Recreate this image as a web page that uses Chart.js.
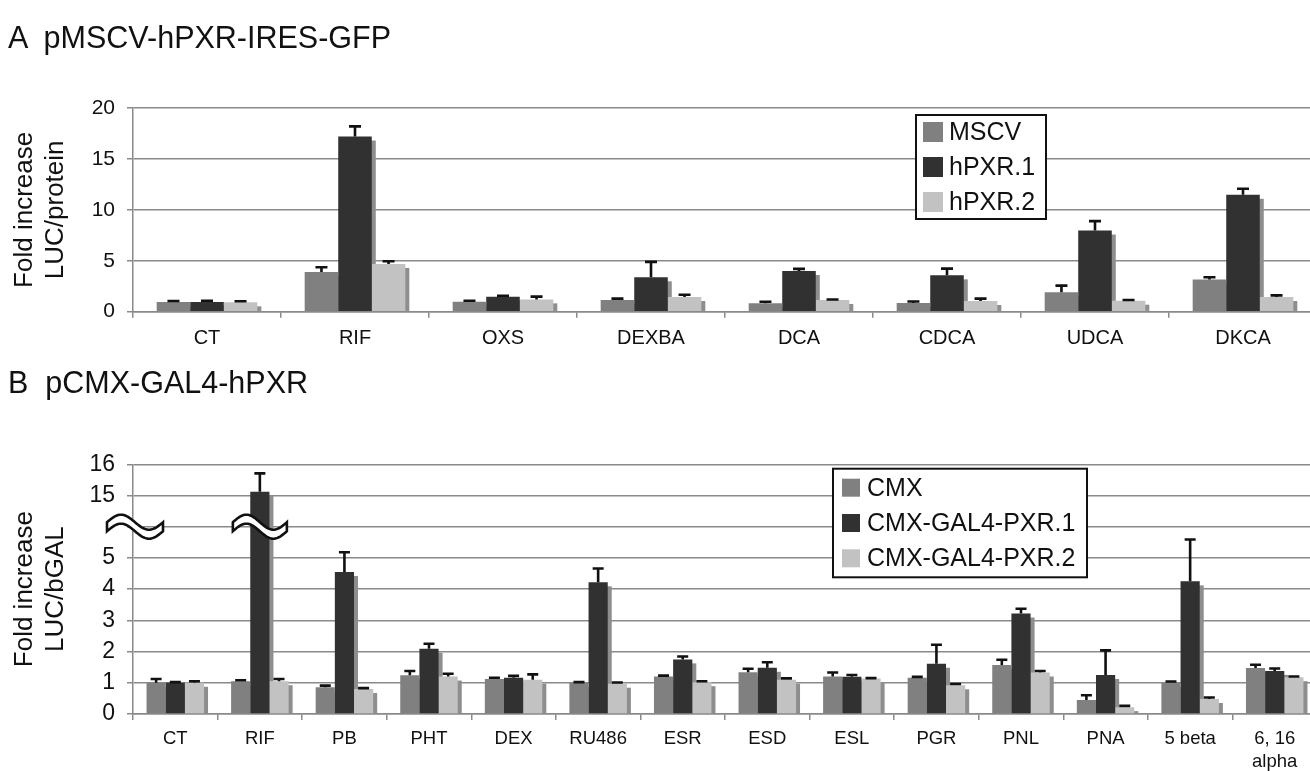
<!DOCTYPE html>
<html><head><meta charset="utf-8">
<script src="https://cdn.jsdelivr.net/npm/chart.js@4/dist/chart.umd.min.js"></script>
<style>
html,body{margin:0;padding:0;background:#fff;overflow:hidden;width:1310px;height:771px;}
#wrap{position:relative;width:1310px;height:771px;overflow:hidden;background:#fff;}
.ttl{position:absolute;left:8px;font-family:"Liberation Sans",Arial,Helvetica,sans-serif;font-size:30.5px;color:#111;white-space:pre;line-height:1;}
#cA{position:absolute;left:0;top:0;}
#cB{position:absolute;left:0;top:360px;}
</style></head><body>
<div id="wrap">
<canvas id="cA" width="1330" height="365"></canvas>
<canvas id="cB" width="1330" height="411"></canvas>
<div class="ttl" style="top:22px">A  pMSCV-hPXR-IRES-GFP</div>
<div class="ttl" style="top:367px">B  pCMX-GAL4-hPXR</div>
</div>
<script>
// ---------- Panel A data ----------
const catsA = ['CT','RIF','OXS','DEXBA','DCA','CDCA','UDCA','DKCA'];
const seriesA = ['MSCV','hPXR.1','hPXR.2'];
const mscv    = [0.95, 3.90, 0.98, 1.15, 0.82, 0.85, 1.90, 3.15];
const mscvSD  = [0.10, 0.46, 0.10, 0.13, 0.16, 0.15, 0.66, 0.23];
const hpxr1   = [0.95, 17.2, 1.48, 3.38, 4.00, 3.57, 7.97, 11.48];
const hpxr1SD = [0.13, 1.00, 0.09, 1.51, 0.20, 0.66, 0.92, 0.59];
const hpxr2   = [0.92, 4.69, 1.21, 1.44, 1.15, 1.05, 1.08, 1.44];
const hpxr2SD = [0.10, 0.26, 0.27, 0.23, 0.05, 0.23, 0.07, 0.16];
const ticksA  = [0, 5, 10, 15, 20];

// ---------- Panel B data ----------
const catsB = ['CT','RIF','PB','PHT','DEX','RU486','ESR','ESD','ESL','PGR','PNL','PNA','5 beta',['6, 16','alpha']];
const seriesB = ['CMX','CMX-GAL4-PXR.1','CMX-GAL4-PXR.2'];
const cmx    = [1.00, 1.05, 0.86, 1.24, 1.12, 1.00, 1.20, 1.34, 1.20, 1.16, 1.57, 0.45, 1.00, 1.47];
const cmxSD  = [0.12, 0.03, 0.05, 0.14, 0.04, 0.02, 0.03, 0.11, 0.13, 0.03, 0.17, 0.15, 0.04, 0.11];
const pxr1   = [1.00, 15.12, 4.55, 2.09, 1.16, 4.22, 1.75, 1.48, 1.19, 1.61, 3.22, 1.25, 4.25, 1.38];
const pxr1SD = [0.02, 0.59, 0.63, 0.16, 0.06, 0.44, 0.09, 0.18, 0.06, 0.61, 0.15, 0.79, 1.34, 0.08];
const pxr2   = [1.00, 1.05, 0.80, 1.20, 1.10, 0.97, 1.02, 1.10, 1.14, 0.92, 1.33, 0.22, 0.48, 1.18];
const pxr2SD = [0.05, 0.07, 0.03, 0.09, 0.17, 0.04, 0.03, 0.04, 0.01, 0.04, 0.05, 0.04, 0.05, 0.02];
// broken axis: axis positions 0..8, labels below (position 6 is the break)
const tickLabelsB = ['0','1','2','3','4','5','','15','16'];
const breakPos = 6;
const toAxisB = v => (v > 10 ? v - 8 : v);   // 15 -> 7, 16 -> 8

// ---------- styling ----------
const F = '"Liberation Sans", Arial, Helvetica, sans-serif';
const C1 = '#808080', C2 = '#313131', C3 = '#c2c2c2', SH = '#8e8e8e', GRID = '#8a8a8a', TXT = '#111';
Chart.defaults.font.family = F;

const addSD = (v, sd) => v.map((x, i) => x + sd[i]);

const shadowPlugin = {
  id: 'barShadow',
  beforeDatasetsDraw(chart) {
    const {ctx, chartArea: a} = chart;
    ctx.save();
    ctx.beginPath(); ctx.rect(a.left, a.top - 30, a.right - a.left, a.bottom - a.top + 30); ctx.clip();
    ctx.fillStyle = SH;
    chart.data.datasets.forEach((ds, i) => {
      chart.getDatasetMeta(i).data.forEach(bar => {
        const p = bar.getProps(['x', 'y', 'base', 'width'], true);
        ctx.fillRect(p.x - p.width / 2 + 4, p.y + 4, p.width, p.base - p.y - 4);
      });
    });
    ctx.restore();
  }
};

const errPlugin = {
  id: 'errBars',
  afterDatasetsDraw(chart, args, opts) {
    const {ctx} = chart; const ys = chart.scales.y;
    ctx.save(); ctx.strokeStyle = TXT; ctx.lineWidth = opts.lw || 2;
    chart.data.datasets.forEach((ds, i) => {
      chart.getDatasetMeta(i).data.forEach((bar, j) => {
        const yTop = ys.getPixelForValue(ds.errTop[j]);
        ctx.beginPath();
        ctx.moveTo(bar.x, bar.y); ctx.lineTo(bar.x, yTop);
        ctx.moveTo(bar.x - opts.cap / 2, yTop); ctx.lineTo(bar.x + opts.cap / 2, yTop);
        ctx.stroke();
      });
    });
    ctx.restore();
  }
};

const boxLegend = {
  id: 'boxLegend',
  afterDraw(chart, args, o) {
    const {ctx} = chart;
    ctx.save();
    ctx.fillStyle = '#fff'; ctx.fillRect(o.x, o.y, o.w, o.h);
    ctx.strokeStyle = TXT; ctx.lineWidth = 2; ctx.strokeRect(o.x, o.y, o.w, o.h);
    ctx.font = o.size + 'px ' + F; ctx.textBaseline = 'middle'; ctx.textAlign = 'left';
    chart.data.datasets.forEach((ds, i) => {
      const cy = o.y + o.first + i * o.gap;
      ctx.fillStyle = ds.backgroundColor; ctx.fillRect(o.x + o.sx, cy - o.sw / 2, o.sw, o.sw);
      ctx.fillStyle = TXT; ctx.fillText(ds.label, o.x + o.tx, cy + 1);
    });
    ctx.restore();
  }
};

function squiggle(ctx, cx, cy, w, amp, th) {
  const x0 = cx - w / 2, n = 40;
  ctx.beginPath();
  for (let k = 0; k <= n; k++) { const t = k / n; const x = x0 + t * w; const y = cy - th / 2 - amp * Math.sin(2 * Math.PI * t); if (k) ctx.lineTo(x, y); else ctx.moveTo(x, y); }
  for (let k = n; k >= 0; k--) { const t = k / n; const x = x0 + t * w; const y = cy + th / 2 - amp * Math.sin(2 * Math.PI * t); ctx.lineTo(x, y); }
  ctx.closePath();
  ctx.fillStyle = '#fff'; ctx.fill();
  ctx.lineWidth = 2.6; ctx.strokeStyle = TXT; ctx.stroke();
}

const breakPlugin = {
  id: 'axisBreak',
  afterDatasetsDraw(chart) {
    const {ctx, chartArea: a} = chart; const ys = chart.scales.y;
    const yb = ys.getPixelForValue(breakPos);
    const bar = chart.getDatasetMeta(1).data[1];
    ctx.save();
    squiggle(ctx, a.left + 2, yb, 56, 7.5, 9);
    squiggle(ctx, bar.x, yb, 54, 7.5, 9);
    ctx.restore();
  }
};

function common(opts) {
  return {
    responsive: false, animation: false, devicePixelRatio: 1,
    layout: {padding: {top: opts.top, left: 0, right: 13, bottom: 0}},
    datasets: {bar: {categoryPercentage: 0.68, barPercentage: 1.0, borderWidth: 0}},
    plugins: {
      legend: {display: false}, tooltip: {enabled: false},
      errBars: {cap: opts.cap, lw: 2.6},
      boxLegend: opts.legend
    },
    scales: {
      x: {
        grid: {display: true, drawOnChartArea: false, drawTicks: true, tickLength: 6, color: GRID, lineWidth: 1.5, offset: true},
        border: {color: GRID, width: 1.5},
        ticks: {font: {size: opts.xfs, lineHeight: 1.25}, color: TXT, padding: opts.xpad, autoSkip: false, maxRotation: 0},
        afterFit(s) { s.height = opts.xh; }
      },
      y: {
        min: opts.ymin, max: opts.ymax,
        afterBuildTicks: opts.buildTicks,
        ticks: {font: {size: opts.yfs}, color: TXT, padding: 12, callback: opts.tickCb},
        grid: {color: GRID, lineWidth: 1.5, tickLength: 6},
        border: {color: GRID, width: 1.5},
        title: {display: true, text: opts.ytitle, font: {size: 26, lineHeight: 1.2}, color: TXT, padding: {top: 9, bottom: 0}},
        afterFit(s) { s.width = 133; }
      }
    }
  };
}

new Chart(document.getElementById('cA'), {
  type: 'bar',
  data: {labels: catsA, datasets: [
    {label: seriesA[0], data: mscv,  backgroundColor: C1, errTop: addSD(mscv, mscvSD)},
    {label: seriesA[1], data: hpxr1, backgroundColor: C2, errTop: addSD(hpxr1, hpxr1SD)},
    {label: seriesA[2], data: hpxr2, backgroundColor: C3, errTop: addSD(hpxr2, hpxr2SD)}
  ]},
  options: common({
    top: 108, cap: 12, xfs: 20, xpad: 8, xh: 365 - 311.7, yfs: 21,
    ymin: 0, ymax: 20,
    buildTicks: s => { s.ticks = ticksA.map(v => ({value: v})); },
    tickCb: v => String(v),
    ytitle: ['Fold increase', 'LUC/protein'],
    legend: {x: 916, y: 115, w: 130, h: 104, first: 17, gap: 35, sx: 7, sw: 20, tx: 33, size: 25}
  }),
  plugins: [shadowPlugin, errPlugin, boxLegend]
});

new Chart(document.getElementById('cB'), {
  type: 'bar',
  data: {labels: catsB, datasets: [
    {label: seriesB[0], data: cmx.map(toAxisB),  backgroundColor: C1, errTop: addSD(cmx, cmxSD).map(toAxisB)},
    {label: seriesB[1], data: pxr1.map(toAxisB), backgroundColor: C2, errTop: addSD(pxr1, pxr1SD).map(toAxisB)},
    {label: seriesB[2], data: pxr2.map(toAxisB), backgroundColor: C3, errTop: addSD(pxr2, pxr2SD).map(toAxisB)}
  ]},
  options: common({
    top: 104.3, cap: 11, xfs: 18.5, xpad: 7, xh: 411 - 354, yfs: 23,
    ymin: 0, ymax: 8,
    buildTicks: s => { s.ticks = tickLabelsB.map((t, i) => ({value: i})); },
    tickCb: v => tickLabelsB[v],
    ytitle: ['Fold increase', 'LUC/bGAL'],
    legend: {x: 833, y: 108.7, w: 254, h: 108.6, first: 19, gap: 35.3, sx: 9, sw: 18, tx: 34, size: 25}
  }),
  plugins: [shadowPlugin, errPlugin, boxLegend, breakPlugin]
});
</script>
</body></html>
